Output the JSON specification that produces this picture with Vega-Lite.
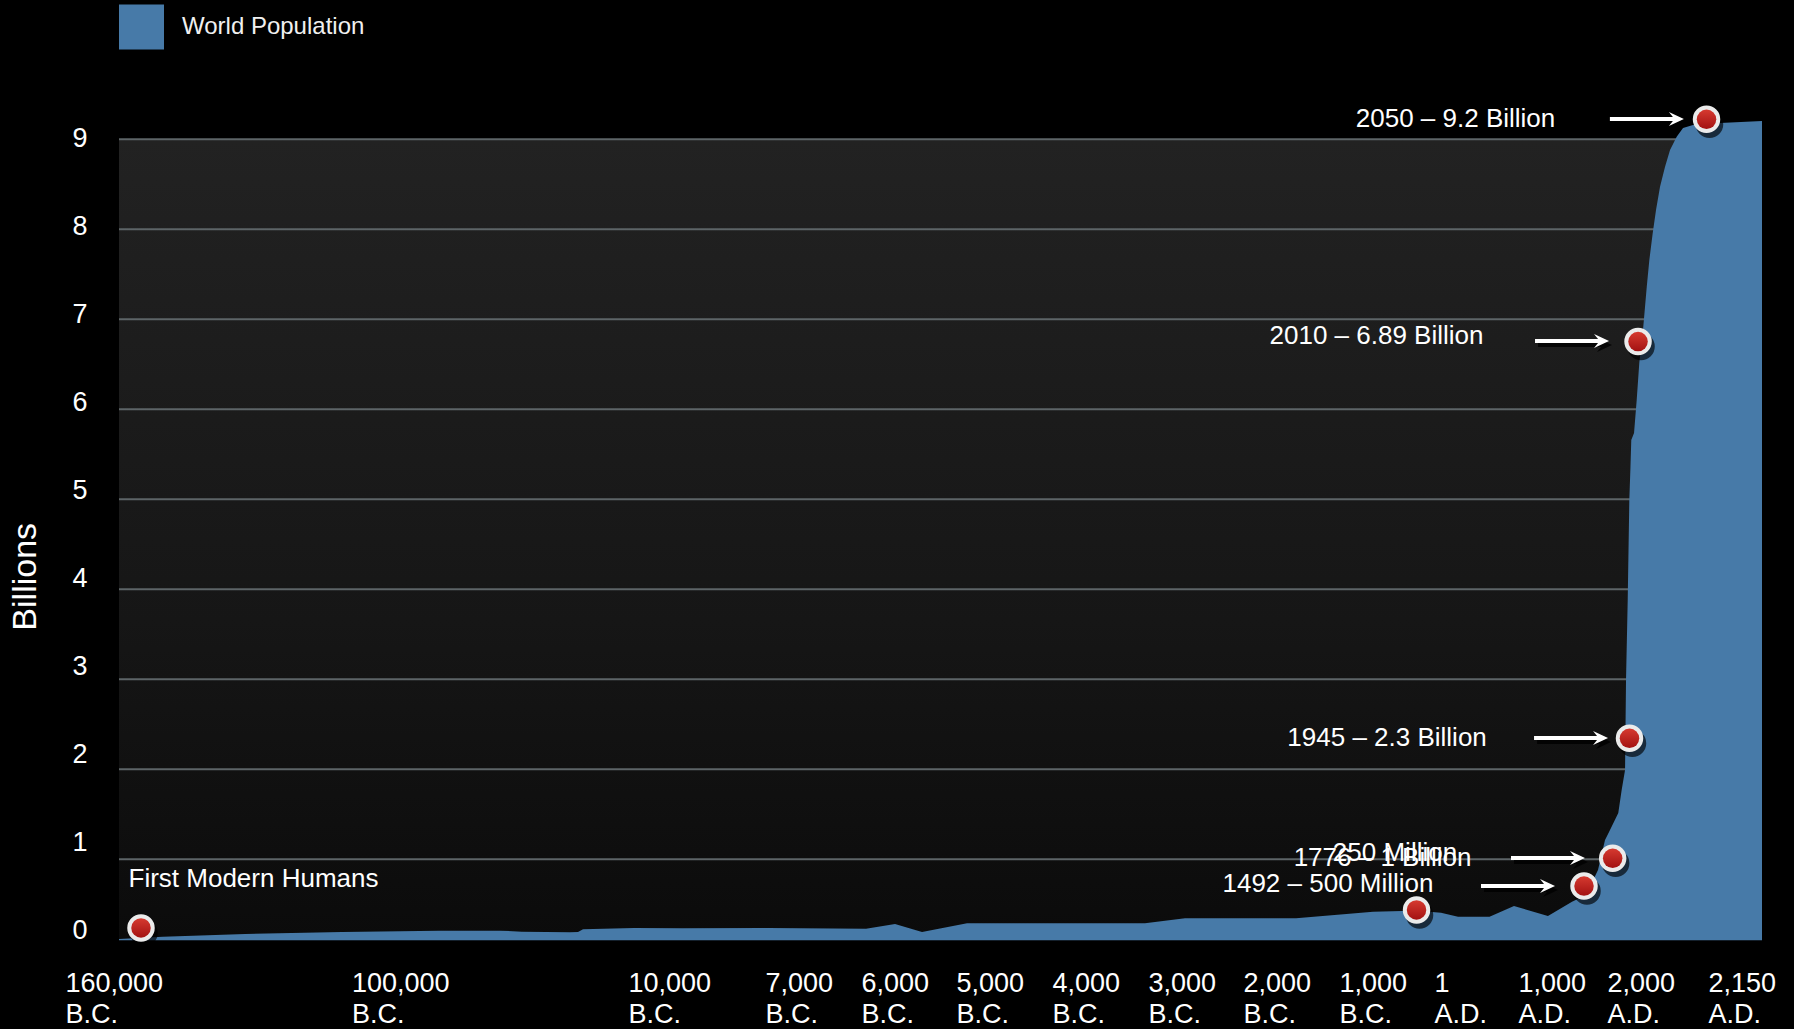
{
  "$schema": "https://vega.github.io/schema/vega-lite/v6.json",
  "width": 1643,
  "height": 900,
  "autosize": {"type": "none"},
  "padding": {"left": 119, "top": 49.3, "right": 32, "bottom": 79.7},
  "background": "#000000",
  "config": {"view": {"stroke": null}, "font": "Liberation Sans"},
  "datasets": {
    "panel": [{"year": -160000, "year_end": 2150, "billions": 9, "billions_end": 0.1}],
    "grid": [
      {"year": -160000, "year_end": 2150, "billions": 1},
      {"year": -160000, "year_end": 2150, "billions": 2},
      {"year": -160000, "year_end": 2150, "billions": 3},
      {"year": -160000, "year_end": 2150, "billions": 4},
      {"year": -160000, "year_end": 2150, "billions": 5},
      {"year": -160000, "year_end": 2150, "billions": 6},
      {"year": -160000, "year_end": 2150, "billions": 7},
      {"year": -160000, "year_end": 2150, "billions": 8},
      {"year": -160000, "year_end": 2150, "billions": 9}
    ],
    "pop": [
      {"year": -160000, "billions": 0.114, "series": "World Population"},
      {"year": -150800, "billions": 0.14, "series": "World Population"},
      {"year": -133600, "billions": 0.17, "series": "World Population"},
      {"year": -113300, "billions": 0.192, "series": "World Population"},
      {"year": -89100, "billions": 0.207, "series": "World Population"},
      {"year": -69240, "billions": 0.207, "series": "World Population"},
      {"year": -62080, "billions": 0.196, "series": "World Population"},
      {"year": -46455, "billions": 0.189, "series": "World Population"},
      {"year": -43850, "billions": 0.192, "series": "World Population"},
      {"year": -42220, "billions": 0.222, "series": "World Population"},
      {"year": -25620, "billions": 0.237, "series": "World Population"},
      {"year": -10000, "billions": 0.235, "series": "World Population"},
      {"year": -8117, "billions": 0.237, "series": "World Population"},
      {"year": -6510, "billions": 0.229, "series": "World Population"},
      {"year": -6208, "billions": 0.281, "series": "World Population"},
      {"year": -5926, "billions": 0.192, "series": "World Population"},
      {"year": -5452, "billions": 0.289, "series": "World Population"},
      {"year": -3594, "billions": 0.289, "series": "World Population"},
      {"year": -3177, "billions": 0.346, "series": "World Population"},
      {"year": -2010, "billions": 0.344, "series": "World Population"},
      {"year": -1208, "billions": 0.418, "series": "World Population"},
      {"year": -905, "billions": 0.426, "series": "World Population"},
      {"year": -715, "billions": 0.426, "series": "World Population"},
      {"year": -494, "billions": 0.407, "series": "World Population"},
      {"year": -315, "billions": 0.362, "series": "World Population"},
      {"year": 19, "billions": 0.362, "series": "World Population"},
      {"year": 310, "billions": 0.481, "series": "World Population"},
      {"year": 714, "billions": 0.37, "series": "World Population"},
      {"year": 1000, "billions": 0.529, "series": "World Population"},
      {"year": 1157, "billions": 0.603, "series": "World Population"},
      {"year": 1292, "billions": 0.881, "series": "World Population"},
      {"year": 1371, "billions": 1.214, "series": "World Population"},
      {"year": 1427, "billions": 1.326, "series": "World Population"},
      {"year": 1520, "billions": 1.514, "series": "World Population"},
      {"year": 1558, "billions": 1.77, "series": "World Population"},
      {"year": 1596, "billions": 1.992, "series": "World Population"},
      {"year": 1607, "billions": 2.992, "series": "World Population"},
      {"year": 1626, "billions": 3.881, "series": "World Population"},
      {"year": 1644, "billions": 4.992, "series": "World Population"},
      {"year": 1657, "billions": 5.362, "series": "World Population"},
      {"year": 1666, "billions": 5.659, "series": "World Population"},
      {"year": 1697, "billions": 5.737, "series": "World Population"},
      {"year": 1727, "billions": 6.103, "series": "World Population"},
      {"year": 1756, "billions": 6.514, "series": "World Population"},
      {"year": 1801, "billions": 6.918, "series": "World Population"},
      {"year": 1840, "billions": 7.362, "series": "World Population"},
      {"year": 1869, "billions": 7.659, "series": "World Population"},
      {"year": 1907, "billions": 7.959, "series": "World Population"},
      {"year": 1944, "billions": 8.214, "series": "World Population"},
      {"year": 1989, "billions": 8.473, "series": "World Population"},
      {"year": 2006, "billions": 8.696, "series": "World Population"},
      {"year": 2013.4, "billions": 8.881, "series": "World Population"},
      {"year": 2023.3, "billions": 9.029, "series": "World Population"},
      {"year": 2032.7, "billions": 9.126, "series": "World Population"},
      {"year": 2047.5, "billions": 9.159, "series": "World Population"},
      {"year": 2087.6, "billions": 9.181, "series": "World Population"},
      {"year": 2150, "billions": 9.203, "series": "World Population"}
    ],
    "dots": [
      {"year": 2067.6, "billions": 9.222, "event": "2050"},
      {"year": 1742, "billions": 6.753, "event": "2010"},
      {"year": 1646, "billions": 2.344, "event": "1945"},
      {"year": 1457, "billions": 1.011, "event": "1776"},
      {"year": 1135, "billions": 0.703, "event": "1492"},
      {"year": -752, "billions": 0.437, "event": "1 A.D."},
      {"year": -155393, "billions": 0.237, "event": "First Modern Humans"}
    ],
    "arrows": [
      {"year": 2034, "billions": 9.226},
      {"year": 1416, "billions": 6.759},
      {"year": 1405, "billions": 2.348},
      {"year": 1146, "billions": 1.014},
      {"year": 798, "billions": 0.703}
    ],
    "notes": [
      {"year": -341, "billions": 9.226, "text": "2050 – 9.2 Billion"},
      {"year": -1172, "billions": 6.814, "text": "2010 – 6.89 Billion"},
      {"year": -1062, "billions": 2.348, "text": "1945 – 2.3 Billion"},
      {"year": -1109, "billions": 1.014, "text": "1776 – 1 Billion"},
      {"year": -979, "billions": 1.07, "text": "250 Million"},
      {"year": -1677, "billions": 0.726, "text": "1492 – 500 Million"},
      {"year": -131836, "billions": 0.781, "text": "First Modern Humans"}
    ]
  },
  "encoding": {
    "x": {"field": "year", "type": "quantitative",
      "scale": {"domain": [-160000, -100000, -10000, -7000, -6000, -5000, -4000, -3000, -2000, -1000, 1, 1000, 2000, 2150], "range": [0, 286.5, 563, 700, 796, 891, 987, 1083, 1178, 1274, 1369, 1453, 1542, 1643], "nice": false, "zero": false},
      "axis": {"values": [-160000, -100000, -10000, -7000, -6000, -5000, -4000, -3000, -2000, -1000, 1, 1000, 2000, 2150],
        "labelExpr": "datum.value < 0 ? [format(-datum.value, ','), 'B.C.'] : [format(datum.value, ','), 'A.D.']",
        "labelAlign": "left", "labelBaseline": "top", "labelOffset": -54, "labelPadding": 21,
        "labelFontSize": 27, "labelFont": "Liberation Sans", "labelColor": "#ffffff", "labelLineHeight": 31,
        "ticks": false, "domain": false, "grid": false, "title": null,
        "labelOverlap": false, "labelFlush": false, "labelBound": false}},
    "y": {"field": "billions", "type": "quantitative", "stack": null,
      "scale": {"domain": [0, 10], "nice": false, "zero": false},
      "axis": {"values": [0, 1, 2, 3, 4, 5, 6, 7, 8, 9], "ticks": false, "domain": false, "grid": false,
        "labelFontSize": 27, "labelFont": "Liberation Sans", "labelColor": "#ffffff", "labelPadding": 32,
        "labelOffset": {"condition": [
          {"test": "datum.value == 0", "value": -19.3},
          {"test": "datum.value == 1", "value": -17.3},
          {"test": "datum.value == 2", "value": -15.3},
          {"test": "datum.value == 3", "value": -13.3},
          {"test": "datum.value == 4", "value": -11.3},
          {"test": "datum.value == 5", "value": -9.3},
          {"test": "datum.value == 6", "value": -7.3},
          {"test": "datum.value == 7", "value": -5.3},
          {"test": "datum.value == 8", "value": -3.3}
        ], "value": -1.3},
        "title": "Billions", "titleFontSize": 34, "titleFont": "Liberation Sans", "titleFontWeight": "normal", "titleColor": "#ffffff",
        "titleX": -94, "titleY": 527, "titleAngle": -90, "titleAlign": "center", "titleBaseline": "middle"}}
  },
  "layer": [
    {
      "data": {"name": "panel"},
      "mark": {"type": "rect", "fill": {"gradient": "linear", "x1": 0, "y1": 0, "x2": 0, "y2": 1, "stops": [{"offset": 0, "color": "#222222"}, {"offset": 0.6, "color": "#161616"}, {"offset": 1, "color": "#0b0b0b"}]}},
      "encoding": {
        "x2": {"field": "year_end"},
        "y2": {"field": "billions_end"}
      }
    },
    {
      "data": {"name": "grid"},
      "mark": {"type": "rule", "stroke": "#5d6467", "strokeWidth": 2},
      "encoding": {
        "x2": {"field": "year_end"}
      }
    },
    {
      "data": {"name": "pop"},
      "mark": {"type": "area", "opacity": 1},
      "encoding": {
        "y2": {"datum": 0.1},
        "color": {"field": "series", "type": "nominal", "scale": {"range": ["#477aa8"]},
          "legend": {"orient": "none", "legendX": 0, "legendY": -44.7, "title": null, "symbolType": "square", "symbolSize": 2025,
            "symbolStrokeWidth": 0, "symbolOpacity": 1, "labelFontSize": 24, "labelFont": "Liberation Sans", "labelColor": "#f0f0f0", "labelOffset": 18, "labelLimit": 0, "padding": 0}}
      }
    },
    {
      "data": {"name": "notes"},
      "mark": {"type": "text", "fontSize": 26, "font": "Liberation Sans", "fill": "#ffffff", "align": "center", "baseline": "middle"},
      "encoding": {"text": {"field": "text"}}
    },
    {
      "data": {"name": "arrows"},
      "mark": {"type": "point", "filled": true, "shape": "M0,0 L-15,-7 L-11,-2 L-74,-2 L-74,2 L-11,2 L-15,7 Z", "size": 4, "fill": "#000000", "opacity": 0.8, "strokeWidth": 0, "xOffset": 3, "yOffset": 4}
    },
    {
      "data": {"name": "arrows"},
      "mark": {"type": "point", "filled": true, "shape": "M0,0 L-15,-7 L-11,-2 L-74,-2 L-74,2 L-11,2 L-15,7 Z", "size": 4, "fill": "#ffffff", "opacity": 1, "strokeWidth": 0}
    },
    {
      "data": {"name": "dots"},
      "mark": {"type": "point", "filled": true, "shape": "circle", "size": 755, "fill": "#000000", "opacity": 0.65, "strokeWidth": 0, "xOffset": 3, "yOffset": 5}
    },
    {
      "data": {"name": "dots"},
      "mark": {"type": "point", "filled": true, "shape": "circle", "size": 755, "fill": "#ebebeb", "opacity": 1, "strokeWidth": 0}
    },
    {
      "data": {"name": "dots"},
      "mark": {"type": "point", "filled": true, "shape": "circle", "size": 380, "opacity": 1, "strokeWidth": 0,
        "fill": {"gradient": "linear", "x1": 0, "y1": 0, "x2": 0, "y2": 1, "stops": [{"offset": 0, "color": "#d63a30"}, {"offset": 1, "color": "#a31212"}]}}
    }
  ]
}
